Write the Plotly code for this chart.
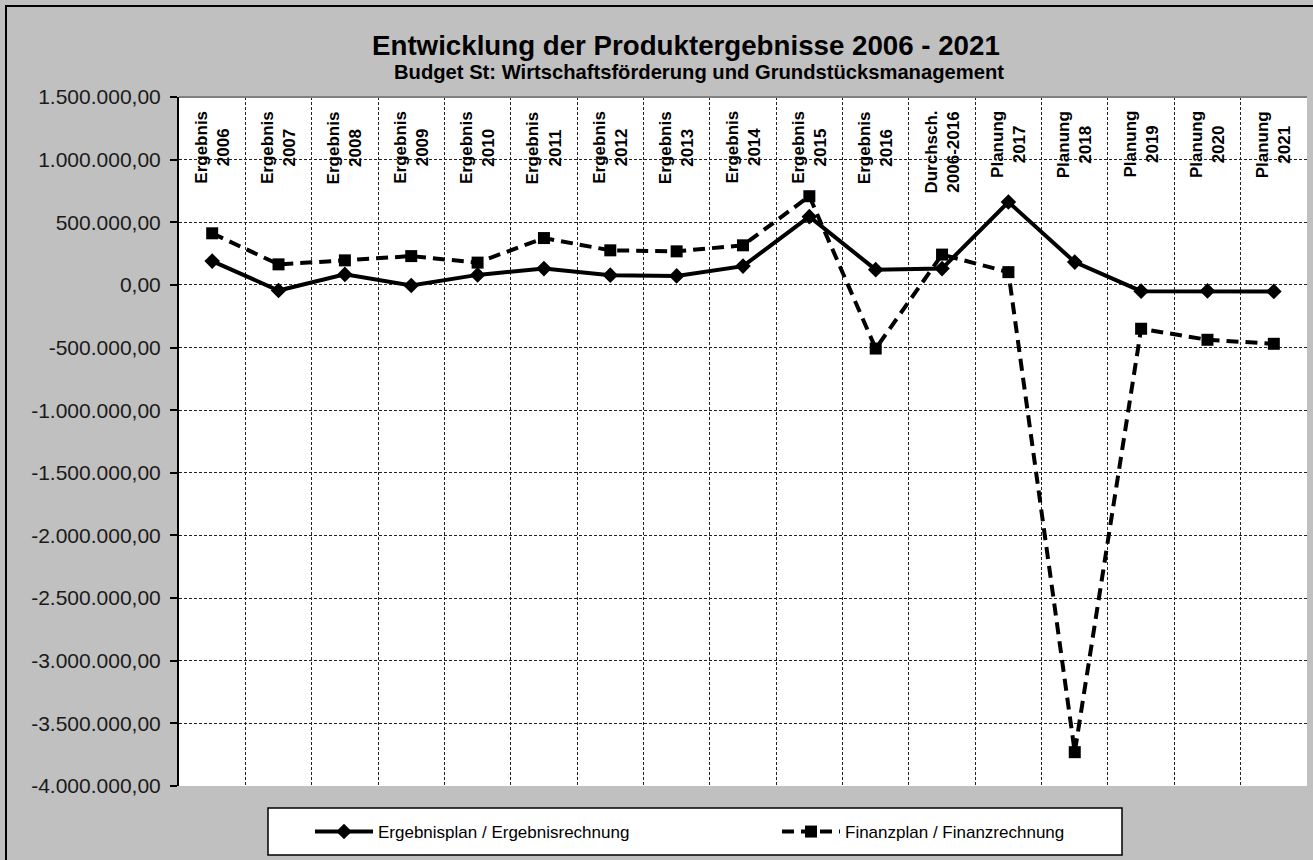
import plotly.graph_objects as go

categories = ["Ergebnis<br>2006", "Ergebnis<br>2007", "Ergebnis<br>2008", "Ergebnis<br>2009",
              "Ergebnis<br>2010", "Ergebnis<br>2011", "Ergebnis<br>2012", "Ergebnis<br>2013",
              "Ergebnis<br>2014", "Ergebnis<br>2015", "Ergebnis<br>2016", "Durchsch.<br>2006-2016",
              "Planung<br>2017", "Planung<br>2018", "Planung<br>2019", "Planung<br>2020", "Planung<br>2021"]

ergebnis = [190000, -45000, 84000, -5000, 80000, 130000, 78000, 72000, 150000, 545000,
            122000, 130000, 662000, 182000, -50000, -48000, -52000]
finanz = [412000, 164000, 196000, 230000, 178000, 374000, 276000, 268000, 316000, 708000,
          -508000, 242000, 102000, -3730000, -350000, -438000, -470000]

y_tickvals = [1500000, 1000000, 500000, 0, -500000, -1000000, -1500000, -2000000,
              -2500000, -3000000, -3500000, -4000000]
y_ticktext = ["1.500.000,00", "1.000.000,00", "500.000,00", "0,00", "-500.000,00",
              "-1.000.000,00", "-1.500.000,00", "-2.000.000,00", "-2.500.000,00",
              "-3.000.000,00", "-3.500.000,00", "-4.000.000,00"]

title = "Entwicklung der Produktergebnisse 2006 - 2021"
subtitle = "Budget St: Wirtschaftsförderung und Grundstücksmanagement"
series_names = ["Ergebnisplan / Ergebnisrechnung", "Finanzplan / Finanzrechnung"]

FONT = "Arial, Liberation Sans, sans-serif"

W, H = 1313, 860
L, R, T, B = 179, 6, 97, 74
pw, ph = W - L - R, H - T - B

def px_x(px):
    return (px - L) / pw

def px_y(py):
    return (H - B - py) / ph

fig = go.Figure()
fig.add_trace(go.Scatter(
    x=categories, y=ergebnis, name=series_names[0], mode="lines+markers",
    line=dict(color="black", width=4),
    marker=dict(symbol="diamond", size=12, color="black"),
))
fig.add_trace(go.Scatter(
    x=categories, y=finanz, name=series_names[1], mode="lines+markers",
    line=dict(color="black", width=4, dash="12px,7px"),
    marker=dict(symbol="square", size=12, color="black"),
))

annotations = []
for c in categories:
    annotations.append(dict(
        x=c, xref="x", y=px_y(109), yref="paper", text="<b>%s</b>" % c,
        textangle=-90, showarrow=False, xanchor="center", yanchor="top",
        font=dict(family=FONT, size=17, color="black"), align="center",
    ))
annotations.append(dict(
    x=px_x(686), y=px_y(45), xref="paper", yref="paper", text="<b>%s</b>" % title,
    showarrow=False, xanchor="center", yanchor="middle",
    font=dict(family=FONT, size=27.7, color="black"),
))
annotations.append(dict(
    x=px_x(699), y=px_y(72), xref="paper", yref="paper", text="<b>%s</b>" % subtitle,
    showarrow=False, xanchor="center", yanchor="middle",
    font=dict(family=FONT, size=20.2, color="black"),
))

shapes = [
    dict(type="rect", xref="paper", yref="paper", x0=px_x(6), x1=px_x(1330), y0=px_y(880), y1=px_y(6),
         line=dict(color="black", width=2), layer="below"),
    dict(type="line", xref="paper", yref="paper", x0=0, x1=1, y0=1, y1=1,
         line=dict(color="#808080", width=2)),
    dict(type="rect", xref="paper", yref="paper", x0=px_x(268), x1=px_x(1122), y0=px_y(855), y1=px_y(808),
         line=dict(color="black", width=1.5), fillcolor="white", layer="below"),
]

fig.update_layout(
    width=W, height=H,
    margin=dict(l=L, r=R, t=T, b=B),
    paper_bgcolor="#c0c0c0", plot_bgcolor="white",
    font=dict(family=FONT, color="#1a1a1a"),
    showlegend=True,
    legend=dict(
        orientation="h", x=px_x(310), xanchor="left", y=px_y(832), yanchor="middle",
        bgcolor="rgba(0,0,0,0)", borderwidth=0,
        font=dict(family=FONT, size=17, color="black"),
        entrywidth=394, itemwidth=58,
    ),
    xaxis=dict(
        type="category", range=[-0.5, 16.5], showticklabels=False, ticks="",
        tickson="boundaries", showgrid=True, gridcolor="#222222", griddash="3px,2px", gridwidth=1,
        showline=False, zeroline=False,
    ),
    yaxis=dict(
        range=[-4000000, 1500000], tickvals=y_tickvals, ticktext=y_ticktext,
        tickfont=dict(family=FONT, size=21, color="#1a1a1a"),
        ticks="outside", ticklen=7, tickcolor="black", tickwidth=1.5, ticklabelstandoff=5,
        showline=True, linecolor="black", linewidth=2,
        showgrid=True, gridcolor="#222222", griddash="3px,2px", gridwidth=1,
        zeroline=False,
    ),
    annotations=annotations, shapes=shapes,
)

fig.write_html("out.html", config={"displayModeBar": False},
               post_script="document.body.style.margin='0';document.body.style.overflow='hidden';")
